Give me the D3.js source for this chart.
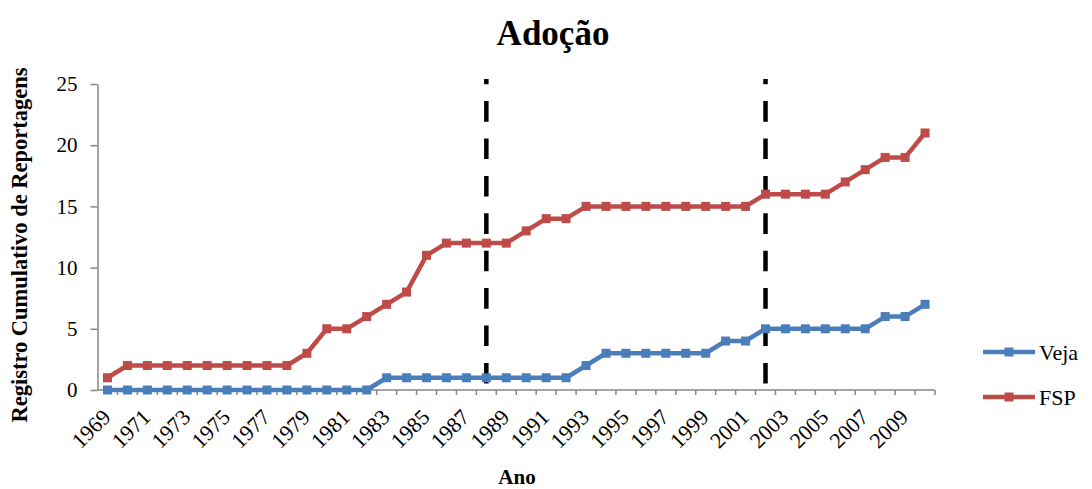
<!DOCTYPE html>
<html>
<head>
<meta charset="utf-8">
<script src="https://cdnjs.cloudflare.com/ajax/libs/d3/7.8.5/d3.min.js"></script>
<style>
  body { margin: 0; background: #fff; }
  svg { font-family: "Liberation Serif", "Times New Roman", serif; }
</style>
</head>
<body>
<div id="chart"></div>
<script>
// data
const years = d3.range(1969, 2011);
const veja = [0,0,0,0,0,0,0,0,0,0,0,0,0,0,
              1,1,1,1,1,1,1,1,1,1,
              2,3,3,3,3,3,3,4,4,
              5,5,5,5,5,5,6,6,7];
const fsp = [1,2,2,2,2,2,2,2,2,2,3,5,5,6,7,8,11,12,12,12,12,13,14,14,
             15,15,15,15,15,15,15,15,15,16,16,16,16,17,18,19,19,21];
const yTicks = [0, 5, 10, 15, 20, 25];
const xLabels = years.filter((d, i) => i % 2 === 0);
const markerYears = [1988, 2002];
const series = [
  { name: "Veja", values: veja, color: "#4a7ebb" },
  { name: "FSP", values: fsp, color: "#be4b48" }
];

const width = 1092, height = 489;
const svg = d3.select("#chart").append("svg")
  .attr("width", width)
  .attr("height", height);

const x = d3.scaleBand().domain(years).range([97.5, 935]).padding(0);
const y = d3.scaleLinear().domain([0, 25]).range([390, 84]);
const cx = d => x(d) + x.bandwidth() / 2;

// title
svg.append("text")
  .attr("x", 553).attr("y", 45)
  .attr("text-anchor", "middle")
  .attr("font-size", 35).attr("font-weight", "bold")
  .text("Adoção");

// y axis
const yAxis = svg.append("g")
  .attr("transform", `translate(${x.range()[0]},0)`)
  .call(d3.axisLeft(y).tickValues(yTicks).tickSize(7).tickSizeOuter(0).tickPadding(13));
yAxis.select(".domain").attr("stroke", "#868686").attr("stroke-width", 1.5);
yAxis.selectAll(".tick line").attr("stroke", "#868686").attr("stroke-width", 1.5);
yAxis.selectAll(".tick text").attr("font-size", 21).attr("fill", "#000")
  .attr("font-family", "Liberation Serif");

// x axis line + ticks between categories
const xAxis = svg.append("g");
xAxis.append("line")
  .attr("x1", x.range()[0]).attr("x2", x.range()[1])
  .attr("y1", y(0)).attr("y2", y(0))
  .attr("stroke", "#868686").attr("stroke-width", 1.5);
xAxis.selectAll(".xt")
  .data(years.slice(1).concat([null]))
  .enter().append("line")
  .attr("x1", d => d === null ? x.range()[1] : x(d))
  .attr("x2", d => d === null ? x.range()[1] : x(d))
  .attr("y1", y(0)).attr("y2", y(0) + 5)
  .attr("stroke", "#868686").attr("stroke-width", 1.5);
xAxis.selectAll(".xl")
  .data(xLabels)
  .enter().append("text")
  .attr("transform", d => `translate(${cx(d) - 1},${y(0) + 23}) rotate(-45)`)
  .attr("text-anchor", "end")
  .attr("dy", "0.35em")
  .attr("font-size", 22)
  .text(d => d);

// axis titles
svg.append("text")
  .attr("transform", "translate(27,245) rotate(-90)")
  .attr("text-anchor", "middle")
  .attr("font-size", 22.5).attr("font-weight", "bold")
  .text("Registro Cumulativo de Reportagens");
svg.append("text")
  .attr("x", 517).attr("y", 484)
  .attr("text-anchor", "middle")
  .attr("font-size", 21).attr("font-weight", "bold")
  .text("Ano");

// dashed reference lines
svg.selectAll(".ref")
  .data(markerYears)
  .enter().append("line")
  .attr("x1", d => cx(d)).attr("x2", d => cx(d))
  .attr("y1", y(0) - 6.5).attr("y2", y(25.4))
  .attr("stroke", "#000").attr("stroke-width", 4.5)
  .attr("stroke-dasharray", "20.6,16.8");

// series lines and markers
const line = d3.line()
  .x((d, i) => cx(years[i]))
  .y(d => y(d));

series.forEach(s => {
  svg.append("path")
    .datum(s.values)
    .attr("d", line)
    .attr("fill", "none")
    .attr("stroke", s.color)
    .attr("stroke-width", 4.5)
    .attr("stroke-linejoin", "round");
  svg.selectAll(null)
    .data(s.values)
    .enter().append("rect")
    .attr("x", (d, i) => cx(years[i]) - 4.5)
    .attr("y", d => y(d) - 4.5)
    .attr("width", 9).attr("height", 9)
    .attr("fill", s.color);
});

// legend
const legend = svg.append("g").attr("transform", "translate(983,352)");
series.forEach((s, i) => {
  const g = legend.append("g").attr("transform", `translate(0,${i * 45})`);
  g.append("line").attr("x1", 0).attr("x2", 52).attr("y1", 0).attr("y2", 0)
    .attr("stroke", s.color).attr("stroke-width", 4.5);
  g.append("rect").attr("x", 21.5).attr("y", -4.5).attr("width", 9).attr("height", 9)
    .attr("fill", s.color);
  g.append("text").attr("x", 56).attr("y", 0).attr("dy", "0.35em")
    .attr("font-size", 22).text(s.name);
});
</script>
</body>
</html>
